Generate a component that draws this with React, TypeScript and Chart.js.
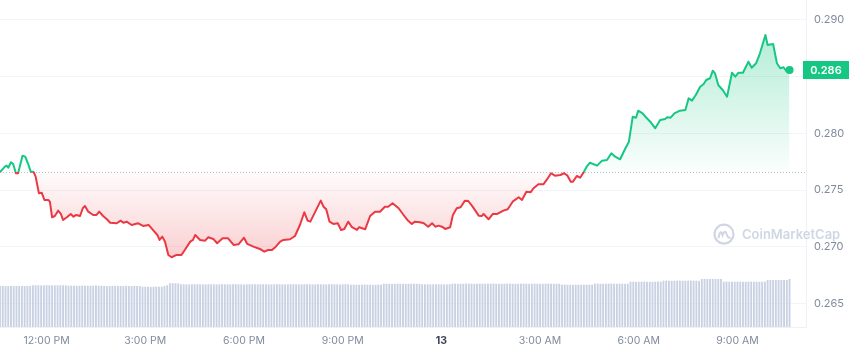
import { useEffect, useRef } from "react";
import { Chart, registerables } from "chart.js";

Chart.register(...registerables);

// ---- data ----
// start of the window: 10:35 AM on the 12th; times are minutes since then
const startHour = 10 + 35 / 60;

const priceMinutes = [
  0, 9, 12, 15, 20, 24, 29, 33, 36, 41, 46, 52, 56, 61, 65, 71, 76, 81, 88, 91,
  95, 100, 106, 111, 115, 122, 129, 134, 139, 146, 151, 155, 161, 170, 176, 181, 188, 195, 201, 213,
  220, 225, 231, 240, 252, 261, 271, 280, 287, 291, 296, 301, 307, 313, 322, 331, 337, 347, 352, 356,
  365, 374, 380, 389, 396, 406, 416, 426, 435, 445, 451, 462, 474, 482, 489, 496, 503, 511, 517, 529,
  538, 547, 555, 561, 566, 575, 585, 590, 595, 601, 608, 616, 622, 628, 635, 642, 651, 655, 666, 675,
  684, 693, 702, 708, 716, 727, 736, 743, 751, 757, 766, 773, 781, 788, 794, 800, 806, 812, 821, 826,
  833, 840, 848, 854, 862, 873, 879, 882, 891, 899, 907, 918, 926, 935, 946, 952, 960, 968, 973, 982,
  991, 997, 1005, 1012, 1022, 1029, 1035, 1041, 1045, 1052, 1058, 1064, 1070, 1076, 1089, 1098, 1107, 1115, 1122, 1131,
  1140, 1147, 1154, 1160, 1164, 1172, 1178, 1186, 1195, 1204, 1213, 1217, 1223, 1230, 1240, 1250, 1256, 1262, 1269, 1277,
  1283, 1288, 1295, 1300, 1304, 1310, 1318, 1326, 1335, 1341, 1347, 1355, 1365, 1371, 1379, 1386, 1396, 1400, 1410, 1417,
  1423, 1429, 1435, 1440,
];

const prices = [
  0.27659, 0.27706, 0.27715, 0.27697, 0.27745, 0.2773, 0.27648, 0.27648, 0.27706, 0.27803, 0.27794, 0.27721, 0.27662, 0.27662, 0.27618, 0.27472, 0.27477, 0.27413, 0.27413, 0.27398,
  0.27261, 0.27272, 0.27319, 0.2729, 0.27237, 0.27261, 0.2729, 0.27266, 0.27281, 0.27272, 0.2734, 0.2736, 0.2731, 0.27281, 0.27281, 0.2731, 0.27272, 0.27243, 0.27213, 0.27208,
  0.27231, 0.27213, 0.27222, 0.27193, 0.27208, 0.27184, 0.27193, 0.27143, 0.27105, 0.27061, 0.2709, 0.27046, 0.26929, 0.26909, 0.26929, 0.26929, 0.26973, 0.27046, 0.27061, 0.27105,
  0.27061, 0.27055, 0.27085, 0.2707, 0.27032, 0.27076, 0.27076, 0.27017, 0.27023, 0.27081, 0.27026, 0.27002, 0.26982, 0.26958, 0.26973, 0.26973, 0.27002, 0.27046, 0.27061, 0.27067,
  0.27096, 0.27193, 0.27305, 0.27231, 0.27222, 0.2731, 0.27407, 0.27354, 0.27331, 0.27222, 0.27202, 0.27208, 0.27149, 0.27158, 0.27222, 0.27173, 0.27149, 0.27173, 0.27155, 0.27272,
  0.2731, 0.2731, 0.27354, 0.27354, 0.27384, 0.2734, 0.27281, 0.27237, 0.27202, 0.27222, 0.27217, 0.27208, 0.27178, 0.27208, 0.27178, 0.27187, 0.27178, 0.27158, 0.27173, 0.27281,
  0.2734, 0.27349, 0.27407, 0.27404, 0.27354, 0.27275, 0.27272, 0.2729, 0.27243, 0.2729, 0.2729, 0.27319, 0.27331, 0.27398, 0.27437, 0.27413, 0.27486, 0.27482, 0.27516, 0.27551,
  0.27551, 0.27589, 0.27648, 0.27627, 0.27633, 0.27648, 0.27627, 0.27574, 0.27574, 0.27624, 0.27609, 0.27653, 0.27706, 0.27741, 0.27715, 0.27759, 0.27765, 0.27824, 0.27794, 0.27771,
  0.27862, 0.27926, 0.28146, 0.28137, 0.28199, 0.28176, 0.28141, 0.28102, 0.28044, 0.28117, 0.28126, 0.28141, 0.28137, 0.28176, 0.28199, 0.28205, 0.28308, 0.28287, 0.28337, 0.2841,
  0.28431, 0.28469, 0.28484, 0.28551, 0.28528, 0.28425, 0.28381, 0.28322, 0.28533, 0.28498, 0.28533, 0.28533, 0.2863, 0.28577, 0.28616, 0.28704, 0.28865, 0.28777, 0.28786, 0.28616,
  0.28572, 0.28581, 0.28542, 0.28557,
];

// 5-minute volume bars (millions)
const volumeIntervalMin = 5;
const volumes = [
  410, 411, 410, 409, 410, 411, 410, 410, 409, 410, 411, 410,
  417, 418, 417, 416, 417, 418, 417, 417, 416, 417, 418, 417, 417,
  413, 414, 413, 412, 413, 414, 413, 413, 412, 413, 414, 413, 413,
  410, 409, 410, 411, 410, 409, 410, 410, 411, 410, 409, 410, 410, 409,
  403, 404, 403, 402, 403, 404, 403, 403,
  410, 418,
  437, 438, 437, 436,
  427, 428, 427, 426, 427, 428, 427, 427, 426, 427, 428, 427, 427, 426, 427, 428,
  427, 427, 426, 427, 428, 427, 427, 426, 427, 428, 427, 427, 426, 427, 428, 427,
  427, 426, 427, 428, 427, 427, 426, 427, 428, 427, 427, 426, 427, 428, 427, 427,
  426, 427, 428, 427, 427, 426, 427, 428, 427, 427, 426, 427, 428, 427,
  423, 424, 423, 422, 423, 424, 423, 423, 422, 423, 424, 423,
  432, 433, 432, 431, 432, 433, 432, 432, 431, 432, 433, 432, 432, 431,
  427, 428, 427, 426, 427, 428, 427, 427, 426, 427, 428,
  433, 434, 433, 432, 433, 434, 433, 433, 432, 433, 434, 433, 433, 432, 433, 434, 433, 433, 432, 433,
  434, 433, 433, 432, 433, 434, 433, 433, 432, 433, 434, 433, 433, 432, 433, 434, 433, 433, 432, 433,
  423, 424, 423, 422, 423, 424, 423, 423, 422, 423, 424, 423,
  433, 434, 433, 432, 433, 434, 433, 433, 432, 433, 434, 433, 433,
  453, 454, 453, 452, 453, 454, 453, 453, 452, 453, 454, 453,
  463, 464, 463, 462, 463, 464, 463, 463, 462, 463, 464, 463, 463, 462,
  480, 481, 480, 479, 480, 481, 480, 480,
  453, 454, 453, 452, 453, 454, 453, 453, 452, 453, 454, 453, 453, 452, 453, 454,
  470, 471, 470, 469, 470, 471, 470, 470,
  480,
];

const tickHours = [12, 15, 18, 21, 24, 27, 30, 33];
const tickLabels = ["12:00 PM", "3:00 PM", "6:00 PM", "9:00 PM", "13", "3:00 AM", "6:00 AM", "9:00 AM"];
const priceTicks = [0.265, 0.27, 0.275, 0.28, 0.285, 0.29];

const GREEN = "#16c784";
const RED = "#ea3943";
const AXIS_TEXT = "#808a9d";
const FONT = "Inter, 'Noto Sans', sans-serif";

export default function App() {
  const canvasRef = useRef<HTMLCanvasElement | null>(null);

  useEffect(() => {
    const canvas = canvasRef.current;
    if (!canvas) return;
    const ctx = canvas.getContext("2d");
    if (!ctx) return;

    const basePrice = prices[0];
    const lastIdx = prices.length - 1;
    const lastPrice = prices[lastIdx];
    const tickMinutes = tickHours.map((h) => (h - startHour) * 60);

    const overlay = {
      id: "cmcOverlay",
      beforeDatasetsDraw(chart: any) {
        const { ctx: c, chartArea: a, scales } = chart;
        const y = scales.y.getPixelForValue(basePrice);
        c.save();
        // dotted open-price line
        c.strokeStyle = "rgba(128,138,157,0.55)";
        c.lineWidth = 1;
        c.setLineDash([1, 2]);
        c.beginPath();
        c.moveTo(a.left, Math.round(y) + 0.5);
        c.lineTo(a.right, Math.round(y) + 0.5);
        c.stroke();
        c.setLineDash([]);
        // watermark
        const wy = a.top + (a.bottom - a.top) * 0.716;
        const lx = a.right - 82;
        c.strokeStyle = "#cfd6e4";
        c.lineWidth = 2.2;
        c.beginPath();
        c.arc(lx, wy, 9.5, 0, Math.PI * 2);
        c.stroke();
        c.lineWidth = 2;
        c.beginPath();
        c.moveTo(lx - 5.5, wy + 4);
        c.quadraticCurveTo(lx - 3.5, wy - 6, lx - 1.5, wy + 1);
        c.quadraticCurveTo(lx + 1, wy - 6, lx + 3, wy + 1);
        c.quadraticCurveTo(lx + 4.5, wy + 5, lx + 6.5, wy + 3);
        c.stroke();
        c.fillStyle = "#cfd6e4";
        c.font = `600 13px ${FONT}`;
        c.textBaseline = "middle";
        c.textAlign = "left";
        c.fillText("CoinMarketCap", a.right - 64, wy + 1);
        c.restore();
      },
      afterDraw(chart: any) {
        const { ctx: c, chartArea: a, scales } = chart;
        const y = scales.y.getPixelForValue(lastPrice);
        c.save();
        c.fillStyle = GREEN;
        c.fillRect(a.right - 3, Math.round(y) - 9, 46, 18);
        c.fillStyle = "#ffffff";
        c.font = `600 11px ${FONT}`;
        c.textBaseline = "middle";
        c.textAlign = "center";
        c.fillText(lastPrice.toFixed(3), a.right + 20, Math.round(y) + 0.5);
        c.restore();
      },
    };

    const chart = new Chart(ctx, {
      type: "line",
      data: {
        datasets: [
          {
            type: "line",
            data: priceMinutes.map((m, i) => ({ x: m, y: prices[i] })),
            borderColor: GREEN,
            borderWidth: 2,
            borderJoinStyle: "round",
            tension: 0,
            pointRadius: (c: any) => (c.dataIndex === lastIdx ? 4 : 0),
            pointHoverRadius: 0,
            pointBackgroundColor: GREEN,
            pointBorderColor: GREEN,
            pointBorderWidth: 0,
            fill: false,
            order: 0,
            yAxisID: "y",
          } as any,
          {
            type: "bar",
            data: volumes.map((v, i) => ({ x: i * volumeIntervalMin, y: v })),
            backgroundColor: "#c9d1e2",
            barPercentage: 0.68,
            categoryPercentage: 1,
            order: 1,
            yAxisID: "vol",
          } as any,
        ],
      },
      options: {
        animation: false,
        responsive: true,
        maintainAspectRatio: false,
        layout: { padding: 0, autoPadding: false },
        plugins: { legend: { display: false }, tooltip: { enabled: false } },
        events: [],
        scales: {
          x: {
            type: "linear",
            min: 0,
            max: 1470,
            offset: false,
            grid: { display: false, drawTicks: false },
            border: { display: true, color: "#eff2f5" },
            afterBuildTicks: (s: any) => {
              s.ticks = tickMinutes.map((v) => ({ value: v }));
            },
            afterFit: (s: any) => {
              s.height = 24;
              s.paddingLeft = 0;
              s.paddingRight = 0;
            },
            ticks: {
              autoSkip: false,
              maxRotation: 0,
              padding: 8,
              callback: (_v: any, i: number) => tickLabels[i],
              color: (c: any) => (tickLabels[c.index] === "13" ? "#3d4352" : AXIS_TEXT),
              font: (c: any) => ({
                family: FONT,
                size: 10.5,
                weight: tickLabels[c.index] === "13" ? "bold" : "normal",
              }),
            },
          },
          y: {
            type: "linear",
            position: "right",
            min: 0.26295,
            max: 0.29173,
            grid: { color: "#f3f4f6", drawTicks: false },
            border: { display: true, color: "#eff2f5" },
            afterBuildTicks: (s: any) => {
              s.ticks = priceTicks.map((v) => ({ value: v }));
            },
            afterFit: (s: any) => {
              s.width = 44;
              s.paddingTop = 0;
              s.paddingBottom = 0;
            },
            ticks: {
              padding: 8,
              color: AXIS_TEXT,
              font: { family: FONT, size: 11 },
              // the label next to the current-price badge is hidden
              callback: (v: any) => (Math.abs(Number(v) - lastPrice) < 0.0012 ? "" : Number(v).toFixed(3)),
            },
          },
          vol: {
            type: "linear",
            display: false,
            min: 0,
            max: 3270,
          },
        },
      },
      plugins: [overlay],
    } as any);

    // colour the line and the fill relative to the opening price
    const area = chart.chartArea;
    const ys = chart.scales.y;
    const baseY = ys.getPixelForValue(basePrice);
    const f = Math.min(Math.max((baseY - area.top) / (area.bottom - area.top), 0), 1);
    const stroke = ctx.createLinearGradient(0, area.top, 0, area.bottom);
    stroke.addColorStop(0, GREEN);
    stroke.addColorStop(f, GREEN);
    stroke.addColorStop(f, RED);
    stroke.addColorStop(1, RED);
    const topY = ys.getPixelForValue(Math.max(...prices));
    const botY = ys.getPixelForValue(Math.min(...prices));
    const gFill = ctx.createLinearGradient(0, topY, 0, baseY);
    gFill.addColorStop(0, "rgba(22,199,132,0.32)");
    gFill.addColorStop(1, "rgba(22,199,132,0.02)");
    const rFill = ctx.createLinearGradient(0, baseY, 0, botY);
    rFill.addColorStop(0, "rgba(234,57,67,0.02)");
    rFill.addColorStop(1, "rgba(234,57,67,0.24)");
    const ds: any = chart.data.datasets[0];
    ds.borderColor = stroke;
    ds.fill = { target: { value: basePrice }, above: gFill, below: rFill };
    chart.update("none");

    return () => chart.destroy();
  }, []);

  return (
    <div style={{ position: "fixed", left: 0, top: 0, width: 850, height: 351, background: "#fff" }}>
      <canvas ref={canvasRef} />
    </div>
  );
}
